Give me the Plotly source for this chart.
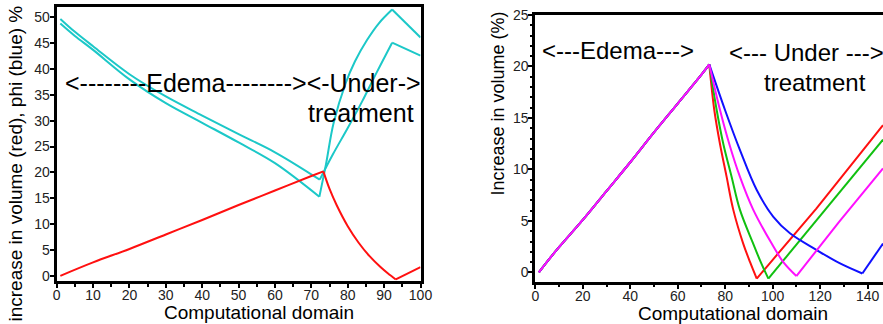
import plotly.graph_objects as go

# ---------------- Left panel data ----------------
left_red_x = [1, 10, 20, 30, 40, 50, 60, 70, 73.3, 75, 77, 80, 83, 86, 89, 91, 93.2, 100]
left_red_y = [0, 2.6, 5.2, 8.0, 10.8, 13.7, 16.5, 19.3, 20.2, 16.8, 13.6, 9.6, 6.4, 3.8, 1.7, 0.5, -0.7, 1.7]
left_red_breaks = [8, 16]          # indices of the peak and the minimum

left_cyanA_x = [1, 5, 10, 20, 30, 40, 50, 60, 72.3, 76, 80, 84, 88, 92.2, 96, 100]
left_cyanA_y = [49.7, 47.2, 44.4, 39.0, 34.7, 31.0, 27.4, 23.9, 18.6, 23.6, 28.6, 33.8, 39.4, 45.1, 43.9, 42.6]
left_cyanA_breaks = [8, 13]

left_cyanB_x = [1, 5, 10, 20, 30, 40, 50, 60, 72.2, 74, 76.1, 79.4, 82, 85.3, 88.5, 92.2, 96, 100]
left_cyanB_y = [48.8, 46.4, 43.7, 38.0, 33.4, 29.6, 25.8, 21.8, 15.3, 21.5, 29.5, 37.2, 41.5, 45.6, 48.8, 51.5, 48.8, 46.1]
left_cyanB_breaks = [8, 15]

# ---------------- Right panel data ----------------
edema_x = [1.5, 5, 10, 20, 30, 40, 50, 60, 70, 73.3]
edema_y = [0, 1.05, 2.45, 5.1, 7.9, 10.7, 13.6, 16.4, 19.2, 20.2]

red_x = [75.4, 77.8, 80.6, 83.4, 87.6, 90.5, 93.3, 118.4, 146.5]
red_y = [15.8, 12.5, 9.3, 6.1, 2.8, 1.0, -0.6, 6.2, 14.3]

green_x = [76.4, 79.2, 82.7, 86.2, 91.8, 95.0, 98.2, 122.0, 146.5]
green_y = [15.8, 12.5, 9.3, 6.1, 2.8, 1.0, -0.6, 6.0, 12.9]

magenta_x = [77.8, 81.7, 86.2, 91.8, 99.6, 104.5, 110.0, 128.0, 146.5]
magenta_y = [15.8, 12.5, 9.3, 6.1, 2.8, 1.0, -0.35, 4.9, 10.1]

blue_x = [79.9, 86.2, 93.3, 100.3, 107.3, 118.4, 128.2, 137.8, 146.5]
blue_y = [15.8, 11.9, 8.0, 5.4, 3.8, 2.2, 0.9, -0.1, 2.8]
treat_min_index = 6  # index (within each treatment list) of the minimum, except blue
blue_min_index = 7

FONT = "Liberation Sans, Arial, sans-serif"
CYAN = "#1CC8C8"

fig = go.Figure()


def add_segments(xs, ys, breaks, color, xa, ya, shapes):
    idx = [0] + breaks + [len(xs) - 1]
    for k in range(len(idx) - 1):
        a, b = idx[k], idx[k + 1]
        fig.add_trace(go.Scatter(
            x=xs[a:b + 1], y=ys[a:b + 1], mode="lines",
            line=dict(color=color, width=2, shape=shapes[k], smoothing=1.0),
            xaxis=xa, yaxis=ya, hoverinfo="skip"))


# left panel
add_segments(left_cyanA_x, left_cyanA_y, left_cyanA_breaks, CYAN, "x", "y", ["spline", "spline", "linear"])
add_segments(left_cyanB_x, left_cyanB_y, left_cyanB_breaks, CYAN, "x", "y", ["spline", "spline", "linear"])
add_segments(left_red_x, left_red_y, left_red_breaks, "#FF1010", "x", "y", ["spline", "spline", "linear"])

# right panel
series = [
    (red_x, red_y, "#FF1010", treat_min_index),
    (green_x, green_y, "#10C010", treat_min_index),
    (blue_x, blue_y, "#1010FF", blue_min_index),
    (magenta_x, magenta_y, "#FF10FF", treat_min_index),
]
n_ed = len(edema_x)
for xs, ys, col, mi in series:
    add_segments(edema_x + xs, edema_y + ys, [n_ed - 1, n_ed + mi], col, "x2", "y2",
                 ["spline", "spline", "linear"])

W, H = 883, 324

def px(v):
    return v / W

def py(v):
    return (H - v) / H

axis_common = dict(
    showline=True, linecolor="black", linewidth=3,
    ticks="outside", ticklen=4, tickwidth=2, tickcolor="black",
    showgrid=False, zeroline=False, automargin=False,
    tickfont=dict(family=FONT, size=14, color="#222"),
)

fig.update_layout(
    template="none",
    width=W, height=H,
    margin=dict(l=0, r=0, t=0, b=0, pad=0),
    paper_bgcolor="white", plot_bgcolor="white",
    showlegend=False,
    xaxis=dict(domain=[px(56.7), px(420.5)], range=[0, 100], dtick=10, mirror=True,
               ticklabelstandoff=-5,
               minor=dict(dtick=5, ticklen=2.5, tickwidth=1.5, tickcolor="black", ticks="outside"),
               anchor="y", **axis_common),
    yaxis=dict(domain=[py(281), py(7)], range=[-1, 52], dtick=5, mirror=True,
               ticklabelstandoff=-3,
               anchor="x", **axis_common),
    xaxis2=dict(domain=[px(535.3), 1.0], range=[0, 146.5], dtick=20, mirror=True,
                ticklabelstandoff=-5,
                minor=dict(dtick=10, ticklen=2.5, tickwidth=1.5, tickcolor="black", ticks="outside"),
                anchor="y2", **axis_common),
    yaxis2=dict(domain=[py(281.7), py(15)], range=[-0.9, 25], dtick=5, mirror=False,
                ticklabelstandoff=-3,
                minor=dict(dtick=1, ticklen=2.5, tickwidth=1.5, tickcolor="black", ticks="outside"),
                anchor="x2", **axis_common),
)

annotations = [
    # axis titles
    dict(text="Computational domain", x=px(258.5), y=py(312), xref="paper", yref="paper",
         xanchor="center", yanchor="middle", showarrow=False, font=dict(family=FONT, size=19, color="black")),
    dict(text="Computational domain", x=px(733), y=py(313), xref="paper", yref="paper",
         xanchor="center", yanchor="middle", showarrow=False, font=dict(family=FONT, size=19, color="black")),
    dict(text="increase in volume (red), phi (blue) %", x=px(15), y=py(163.5), xref="paper", yref="paper",
         xanchor="center", yanchor="middle", textangle=-90, showarrow=False,
         font=dict(family=FONT, size=19, color="black")),
    dict(text="Increase in volume (%)", x=px(498), y=py(103.5), xref="paper", yref="paper",
         xanchor="center", yanchor="middle", textangle=-90, showarrow=False,
         font=dict(family=FONT, size=18, color="black")),
    # in-plot labels
    dict(text="<--------Edema--------><-Under->", x=px(63), y=py(83), xref="paper", yref="paper",
         xanchor="left", yanchor="middle", showarrow=False, font=dict(family=FONT, size=25, color="black")),
    dict(text="treatment", x=px(416), y=py(113), xref="paper", yref="paper",
         xanchor="right", yanchor="middle", showarrow=False, font=dict(family=FONT, size=25, color="black")),
    dict(text="<---Edema--->", x=px(540), y=py(50), xref="paper", yref="paper",
         xanchor="left", yanchor="middle", showarrow=False, font=dict(family=FONT, size=24, color="black")),
    dict(text="<--- Under --->", x=px(727), y=py(52), xref="paper", yref="paper",
         xanchor="left", yanchor="middle", showarrow=False, font=dict(family=FONT, size=24, color="black")),
    dict(text="treatment", x=px(761.7), y=py(82), xref="paper", yref="paper",
         xanchor="left", yanchor="middle", showarrow=False, font=dict(family=FONT, size=24, color="black")),
]
fig.update_layout(annotations=annotations)

fig.write_html(
    "out.html",
    config={"displayModeBar": False},
    post_script="document.body.style.margin='0';document.body.style.overflow='hidden';",
)
